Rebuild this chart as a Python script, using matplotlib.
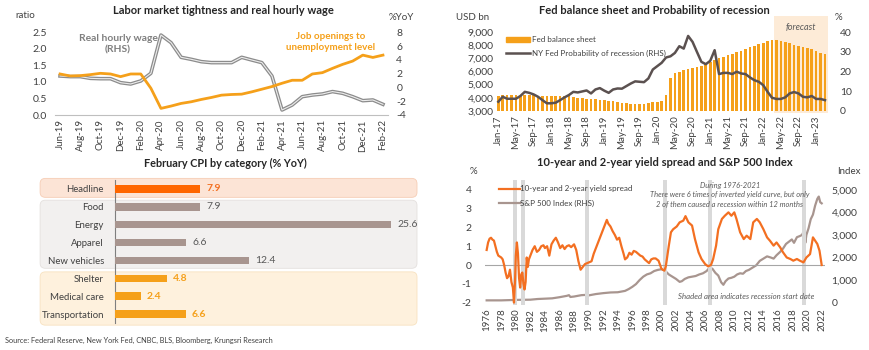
import matplotlib.pyplot as plt
import matplotlib.transforms as mtransforms
from matplotlib.patches import FancyBboxPatch, Patch
from matplotlib.lines import Line2D
import numpy as np
import pandas as pd

plt.rcParams['font.family'] = ['Lato', 'DejaVu Sans']
plt.rcParams['axes.unicode_minus'] = False

TXT = '#404040'
ORANGE = '#F5A01A'
DEEP = '#F36F21'
MAUVE = '#A8958F'
GRAY = '#8C8C8C'
DARK = '#5B5150'

# --- Data: labour market (Jun-19 .. Feb-22) ---------------------------
labor_months = pd.date_range('2019-06-01', '2022-02-01', freq='MS').strftime('%b-%y').tolist()
job_ratio = [1.24, 1.18, 1.19, 1.22, 1.26, 1.24, 1.16, 1.24, 1.24, 0.81, 0.20, 0.27,
             0.35, 0.40, 0.47, 0.53, 0.60, 0.62, 0.63, 0.70, 0.78, 0.86, 0.96, 1.05,
             1.05, 1.24, 1.28, 1.41, 1.53, 1.63, 1.81, 1.74, 1.81]
real_wage = [1.66, 1.57, 1.57, 1.32, 1.27, 1.27, 0.69, 0.50, 0.94, 2.05, 7.60, 6.50,
             4.37, 4.08, 3.74, 3.60, 3.60, 3.60, 4.37, 3.98, 3.60, 1.66, -3.27, -2.55,
             -1.34, -1.10, -0.95, -0.60, -0.85, -1.34, -1.92, -1.82, -2.45]

# --- Data: Fed balance sheet (Jan-17 .. Mar-23) ------------------------
fed_months = pd.date_range('2017-01-01', '2023-03-01', freq='MS').strftime('%b-%y').tolist()
fed_bs = [4170, 4180, 4180, 4180, 4180, 4170, 4180, 4180, 4180, 4170, 4170, 4160,
          4160, 4160, 4150, 4150, 4130, 4060, 4010, 3980, 3940, 3910, 3880, 3850,
          3810, 3780, 3740, 3700, 3620, 3580, 3540, 3530, 3530, 3540, 3580, 3650,
          3710, 3760, 4220, 5530, 5860, 5990, 6110, 6190, 6290, 6370, 6440, 6540,
          6700, 6850, 7000, 7130, 7250, 7360, 7460, 7560, 7700, 7830, 7960, 8080,
          8190, 8300, 8390, 8420, 8320, 8230, 8140, 8050, 7960, 7890, 7810, 7700,
          7560, 7430, 7300]
recession_prob = [4.7, 7.2, 6.2, 6.2, 6.2, 7.6, 9.7, 9.2, 8.4, 7.2, 5.5, 3.9,
                  3.9, 4.2, 5.5, 6.9, 8.1, 9.7, 9.4, 9.9, 10.4, 8.9, 10.9, 11.6,
                  10.3, 9.2, 10.9, 11.4, 11.3, 12.6, 13.9, 15.0, 14.8, 14.6, 16.5, 21.0,
                  22.7, 24.4, 27.1, 27.7, 29.4, 32.8, 31.6, 38.0, 35.0, 29.9, 24.9, 23.7,
                  25.4, 30.8, 18.7, 19.3, 19.3, 18.7, 19.9, 19.0, 18.7, 17.0, 15.6, 14.8,
                  13.1, 9.7, 6.7, 6.1, 6.1, 6.9, 8.9, 9.6, 8.9, 7.2, 6.9, 7.6,
                  6.1, 6.1, 5.5]
forecast_start = 'Apr-22'

# --- Data: CPI by category ---------------------------------------------
cpi_cats = ['Headline', 'Food', 'Energy', 'Apparel', 'New vehicles',
            'Shelter', 'Medical care', 'Transportation']
cpi_vals = [7.9, 7.9, 25.6, 6.6, 12.4, 4.8, 2.4, 6.6]
cpi_group = ['head', 'grey', 'grey', 'grey', 'grey', 'core', 'core', 'core']

# --- Data: yield spread & S&P 500 --------------------------------------
spread_yr = [1976.0, 1976.2, 1976.4, 1976.6, 1976.8, 1977.0, 1977.2, 1977.4, 1977.6, 1977.8,
             1978.0, 1978.2, 1978.4, 1978.6, 1978.8, 1979.0, 1979.2, 1979.4, 1979.6, 1979.75,
             1979.9, 1980.0, 1980.15, 1980.3, 1980.45, 1980.6, 1980.75, 1980.9, 1981.05, 1981.2,
             1981.35, 1981.5, 1981.65, 1981.8, 1982.0, 1982.3, 1982.6, 1982.9, 1983.2, 1983.5,
             1983.8, 1984.0, 1984.3, 1984.6, 1984.9, 1985.2, 1985.5, 1985.8, 1986.1, 1986.4,
             1986.7, 1987.0, 1987.3, 1987.6, 1988.0, 1988.3, 1988.6, 1988.9, 1989.2, 1989.5,
             1989.8, 1990.1, 1990.4, 1990.7, 1991.0, 1991.3, 1991.6, 1991.9, 1992.2, 1992.5,
             1992.7, 1993.0, 1993.3, 1993.6, 1993.9, 1994.2, 1994.5, 1994.8, 1995.0, 1995.3,
             1995.6, 1995.9, 1996.2, 1996.5, 1996.8, 1997.1, 1997.4, 1997.7, 1998.0, 1998.3,
             1998.6, 1998.9, 1999.2, 1999.6, 2000.0, 2000.4, 2000.6, 2001.0, 2001.3, 2001.6,
             2002.1, 2002.5, 2003.0, 2003.3, 2003.7, 2004.2, 2004.6, 2005.1, 2005.5, 2006.0,
             2006.4, 2006.8, 2007.1, 2007.5, 2007.8, 2008.3, 2008.7, 2009.2, 2009.6, 2010.0,
             2010.3, 2010.8, 2011.3, 2011.7, 2012.2, 2012.6, 2013.1, 2013.5, 2014.0, 2014.5,
             2014.9, 2015.4, 2015.8, 2016.3, 2016.7, 2017.2, 2017.7, 2018.1, 2018.6, 2019.0,
             2019.5, 2019.9, 2020.4, 2020.8, 2021.1, 2021.4, 2021.7, 2022.0]
spread = [0.8, 1.2, 1.4, 1.45, 1.35, 1.3, 1.0, 0.7, 0.5, 0.45,
          0.4, 0.3, 0.0, -0.4, -0.7, -0.6, -0.25, -0.9, -1.2, -2.0,
          -0.8, 0.5, 1.2, 0.6, -0.7, -1.2, -0.5, -0.4, -1.0, -1.3,
          -0.9, 0.4, -0.1, 0.3, 0.5, 0.8, 1.0, 0.7, 0.8, 1.0,
          1.05, 0.9, 1.0, 0.5, 1.1, 1.3, 1.45, 1.2, 0.9, 1.05,
          0.85, 1.0, 1.05, 0.95, 1.1, 0.8, 0.2, -0.25, -0.1, 0.05,
          0.1, 0.15, 0.2, 0.6, 0.9, 1.2, 1.5, 1.8, 2.1, 2.4,
          2.2, 2.05, 1.8, 1.6, 1.35, 1.45, 1.0, 0.6, 0.3, 0.4,
          0.65, 0.55, 0.75, 0.7, 0.6, 0.5, 0.45, 0.3, 0.2, 0.1,
          0.3, 0.35, 0.35, 0.23, -0.2, -0.3, -0.07, 1.0, 1.74, 1.9,
          2.05, 2.27, 2.36, 2.6, 2.27, 2.1, 1.38, 0.67, 0.32, 0.05,
          -0.07, 0.0, 0.32, 1.03, 1.9, 2.45, 2.62, 2.8, 2.62, 2.8,
          2.45, 1.74, 1.38, 1.56, 1.38, 2.27, 2.45, 2.27, 1.9, 1.47,
          1.29, 1.03, 1.2, 0.94, 0.67, 0.4, 0.32, 0.23, 0.32, 0.23,
          0.14, 0.4, 0.58, 1.47, 1.29, 1.12, 0.76, 0.0]
spx_yr = [1976.0, 1978.0, 1980.0, 1982.0, 1983.0, 1985.0, 1986.0, 1987.0, 1987.3, 1987.5,
          1988.0, 1989.0, 1989.5, 1990.0, 1991.0, 1992.0, 1993.0, 1994.0, 1995.0, 1995.5,
          1996.0, 1996.5, 1997.0, 1997.5, 1998.0, 1998.5, 1999.0, 1999.5, 2000.0, 2000.3,
          2000.7, 2001.0, 2001.5, 2002.0, 2002.5, 2002.8, 2003.2, 2003.7, 2004.2, 2004.7,
          2005.2, 2005.7, 2006.2, 2006.6, 2007.0, 2007.4, 2007.8, 2008.2, 2008.5, 2008.8,
          2009.2, 2009.6, 2010.0, 2010.4, 2010.8, 2011.2, 2011.6, 2012.0, 2012.5, 2013.0,
          2013.5, 2014.0, 2014.5, 2015.0, 2015.4, 2015.8, 2016.3, 2016.7, 2017.1, 2017.5,
          2017.9, 2018.2, 2018.6, 2019.0, 2019.3, 2019.6, 2019.75, 2019.9, 2020.2, 2020.5,
          2020.8, 2021.1, 2021.4, 2021.6, 2021.8, 2022.0]
spx = [100, 100, 120, 130, 160, 190, 240, 300, 330, 250,
       270, 330, 340, 320, 380, 420, 450, 460, 520, 600,
       700, 820, 1000, 1150, 1250, 1300, 1400, 1450, 1480, 1440,
       1350, 1250, 1150, 1050, 920, 950, 1050, 1120, 1150, 1180,
       1250, 1300, 1400, 1550, 1500, 1320, 1200, 900, 790, 950,
       1070, 1100, 1150, 1250, 1300, 1280, 1400, 1450, 1550, 1650,
       1850, 1950, 2050, 2000, 1950, 2100, 2250, 2400, 2600, 2700,
       2800, 2650, 2900, 2950, 3000, 3200, 2650, 3000, 3300, 3700,
       3900, 4300, 4600, 4700, 4450, 4400]
recession_start = [1979.65, 1980.7, 1989.5, 2000.2, 2006.4, 2019.35]
recession_width = 0.5
year_ticks = list(range(1976, 2023, 2))

# --- Figure --------------------------------------------------------------
W, H = 870, 350
fig = plt.figure(figsize=(W / 100, H / 100), dpi=100)
TITLE_FS = 8.0
TICK_FS = 7.5


def rect(x0, y0, x1, y1):
    # pixel box (top-left origin) -> figure fraction rect
    return [x0 / W, (H - y1) / H, (x1 - x0) / W, (y1 - y0) / H]


def clean(ax):
    for s in ax.spines.values():
        s.set_visible(False)
    ax.tick_params(length=0, colors=TXT, labelsize=TICK_FS)


# ======================= Top-left ========================================
ax1 = fig.add_axes(rect(55, 32.3, 388, 115))
ax1r = ax1.twinx()
x1 = np.arange(len(labor_months))
ax1.plot(x1, job_ratio, color=ORANGE, lw=2, zorder=3)
ax1r.plot(x1, real_wage, color=GRAY, lw=2.6, solid_joinstyle='round')
ax1r.plot(x1, real_wage, color='#EDEDED', lw=0.8)
ax1.set_zorder(ax1r.get_zorder() + 1)
ax1.patch.set_visible(False)
ax1.set_xlim(-0.5, len(labor_months) - 0.5)
ax1.set_ylim(0, 2.5)
ax1r.set_ylim(-4, 8)
ax1.set_yticks(np.arange(0, 2.51, 0.5))
ax1.set_yticklabels([f'{v:.1f}' for v in np.arange(0, 2.51, 0.5)])
ax1r.set_yticks(range(-4, 9, 2))
ax1.set_xticks(x1[::2])
ax1.set_xticklabels(labor_months[::2], rotation=90)
for a in (ax1, ax1r):
    clean(a)
ax1.tick_params(axis='y', pad=6)
ax1r.tick_params(axis='y', pad=6)
ax1.tick_params(axis='x', pad=3, labelsize=7)
ax1.spines['bottom'].set_visible(True)
ax1.spines['bottom'].set_color('#BFBFBF')
ax1.text(5.75, 2.13, 'Real hourly wage\n(RHS)', color='#7F7F7F', fontsize=7.4,
         fontweight='bold', ha='center', va='center', linespacing=1.3)
ax1.text(26.8, 2.2, 'Job openings to\nunemployment level', color=ORANGE, fontsize=7.1,
         fontweight='bold', ha='center', va='center', linespacing=1.3)
fig.text(223 / W, 1 - 10 / H, 'Labor market tightness and real hourly wage',
         ha='center', va='center', fontsize=TITLE_FS, fontweight='bold', color='#262626')
fig.text(15 / W, 1 - 15 / H, 'ratio', ha='left', va='center', fontsize=7, color=TXT)
fig.text(401 / W, 1 - 18 / H, '%YoY', ha='center', va='center', fontsize=7, color=TXT)

# ======================= Top-right =======================================
ax2 = fig.add_axes(rect(496.1, 32, 827.2, 111))
ax2r = ax2.twinx()
x2 = np.arange(len(fed_months))
fs = fed_months.index(forecast_start) - 0.5
ax2.axvspan(fs, len(fed_months) - 0.4, ymin=-0.03, ymax=1.2, color='#FDEBD7',
            clip_on=False, zorder=0, lw=0)
ax2.bar(x2, np.array(fed_bs) - 3000, bottom=3000, width=0.6, color=ORANGE, zorder=2)
ax2r.plot(x2, recession_prob, color=DARK, lw=1.8)
ax2.set_xlim(-0.5, len(fed_months) - 0.5)
ax2.set_ylim(3000, 9000)
ax2r.set_ylim(0, 40)
ax2.set_yticks(range(3000, 9001, 1000))
ax2.set_yticklabels([f'{v:,}' for v in range(3000, 9001, 1000)])
ax2r.set_yticks(range(0, 41, 10))
ax2.set_xticks(x2[::4])
ax2.set_xticklabels(fed_months[::4], rotation=90)
for a in (ax2, ax2r):
    clean(a)
ax2.tick_params(axis='y', pad=2)
ax2r.tick_params(axis='y', pad=9)
ax2.tick_params(axis='x', pad=3, labelsize=7)
handles = [Patch(color=ORANGE), Line2D([], [], color=DARK, lw=1.8)]
ax2.legend(handles, ['Fed balance sheet', 'NY Fed Probability of recession (RHS)'],
           loc='upper left', bbox_to_anchor=(0.02, 0.985), frameon=False, fontsize=5.8,
           handlelength=3.0, handleheight=0.5, handletextpad=0.2, labelspacing=0.75,
           labelcolor=TXT, borderaxespad=0)
ax2.text((fs + len(fed_months) - 0.4) / 2, 9000, 'forecast', ha='center', va='bottom',
         fontsize=6.5, style='italic', color='#595959')
fig.text(654 / W, 1 - 10 / H, 'Fed balance sheet and Probability of recession',
         ha='center', va='center', fontsize=TITLE_FS, fontweight='bold', color='#262626')
fig.text(473 / W, 1 - 17 / H, 'USD bn', ha='center', va='center', fontsize=7, color=TXT)
fig.text(838 / W, 1 - 17 / H, '%', ha='center', va='center', fontsize=7, color=TXT)

# ======================= Bottom-left =====================================
ax3 = fig.add_axes(rect(115, 180, 417, 323))
y3 = np.arange(len(cpi_cats))
bar_col = {'head': '#FF6600', 'grey': MAUVE, 'core': ORANGE}
lab_col = {'head': '#F36F21', 'grey': '#595959', 'core': ORANGE}
lab_wt = {'head': 'bold', 'grey': 'normal', 'core': 'bold'}
ax3.barh(y3, cpi_vals, height=0.42, color=[bar_col[g] for g in cpi_group], zorder=3)
for yy, v, g in zip(y3, cpi_vals, cpi_group):
    ax3.text(v + 0.55, yy, f'{v:.1f}', va='center', ha='left', fontsize=7.5,
             color=lab_col[g], fontweight=lab_wt[g])
ax3.set_ylim(len(cpi_cats) - 0.5, -0.5)
ax3.set_xlim(0, 28)
ax3.set_yticks(y3)
ax3.set_yticklabels(cpi_cats)
ax3.set_xticks([])
clean(ax3)
ax3.tick_params(axis='y', pad=8, labelsize=6.9)
ax3.spines['left'].set_visible(True)
ax3.spines['left'].set_color('#7F7F7F')
ax3.spines['left'].set_linewidth(0.8)
ax3.patch.set_visible(False)

# group backgrounds: rows spanned by each group
blend = mtransforms.blended_transform_factory(ax3.transAxes, ax3.transData)
to_fig = fig.transFigure.inverted()
for (r0, r1), fc, ec in [((-0.59, 0.47), '#FCE4D6', '#F6CDB5'),
                         ((0.63, 4.44), '#F2F0EF', '#E4E0DE'),
                         ((4.64, 7.62), '#FEF1DD', '#F8E2C0')]:
    (fx0, fy0), (fx1, fy1) = to_fig.transform(blend.transform([(-0.248, r1), (1.0, r0)]))
    fig.patches.append(FancyBboxPatch((fx0, fy0), fx1 - fx0, fy1 - fy0,
                                      boxstyle='round,pad=0,rounding_size=0.006',
                                      mutation_aspect=W / H, transform=fig.transFigure,
                                      facecolor=fc, edgecolor=ec, lw=0.6, zorder=-1))
fig.text(225 / W, 1 - 163 / H, 'February CPI by category (% YoY)',
         ha='center', va='center', fontsize=TITLE_FS - 0.2, fontweight='bold', color='#262626')

# ======================= Bottom-right ====================================
ax4 = fig.add_axes(rect(485.2, 180.4, 824.6, 304.5))
ax4r = ax4.twinx()
for r in recession_start:
    ax4.axvspan(r, r + recession_width, color='#D9D9D9', lw=0, zorder=0)
ax4.axhline(0, color='#A6A6A6', lw=0.8, zorder=1)
ax4r.plot(spx_yr, spx, color=MAUVE, lw=1.6)
ax4.plot(spread_yr, spread, color=DEEP, lw=1.6, zorder=3)
ax4.set_zorder(ax4r.get_zorder() + 1)
ax4.patch.set_visible(False)
ax4.set_xlim(1975.8, 2022.4)
ax4.set_ylim(-2.1, 4.5)
# right axis aligned so that 0 sits on -2 and 5,000 on 4
ax4r.set_ylim(-0.1 * 5000 / 6, 6.5 * 5000 / 6)
ax4.set_yticks(range(-2, 5))
ax4r.set_yticks(range(0, 5001, 1000))
ax4r.set_yticklabels([f'{v:,}' for v in range(0, 5001, 1000)])
ax4.set_xticks(year_ticks)
ax4.set_xticklabels([str(y) for y in year_ticks], rotation=90)
for a in (ax4, ax4r):
    clean(a)
ax4.tick_params(axis='y', pad=10)
ax4r.tick_params(axis='y', pad=5)
ax4.tick_params(axis='x', pad=3, labelsize=7)
h4 = [Line2D([], [], color=DEEP, lw=1.6), Line2D([], [], color=MAUVE, lw=1.6)]
ax4.legend(h4, ['10-year and 2-year yield spread', 'S&P 500 Index (RHS)'],
           loc='upper left', bbox_to_anchor=(0.03, 0.985), frameon=False, fontsize=5.8,
           handlelength=2.6, handletextpad=0.05, labelspacing=0.9, labelcolor=TXT,
           borderaxespad=0)
ax4.text(0.721, 0.985, 'During 1976-2021\nThere were 6 times of inverted yield curve, but only\n'
         '2 of them caused a recession within 12 months', transform=ax4.transAxes,
         ha='center', va='top', fontsize=5.4, style='italic', color='#595959', linespacing=1.3)
ax4.text(0.768, 0.063, 'Shaded area indicates recession start date', transform=ax4.transAxes,
         ha='center', va='center', fontsize=5.6, style='italic', color='#595959')
fig.text(665 / W, 1 - 163 / H, '10-year and 2-year yield spread and S&P 500 Index',
         ha='center', va='center', fontsize=TITLE_FS, fontweight='bold', color='#262626')
fig.text(473 / W, 1 - 172 / H, '%', ha='center', va='center', fontsize=7, color=TXT)
fig.text(849 / W, 1 - 171 / H, 'Index', ha='center', va='center', fontsize=7, color=TXT)

fig.text(5 / W, 1 - 340 / H, 'Source: Federal Reserve, New York Fed, CNBC, BLS, Bloomberg, '
         'Krungsri Research', ha='left', va='center', fontsize=5.3, color=TXT)

fig.savefig('out.png', dpi=100, facecolor='white')
